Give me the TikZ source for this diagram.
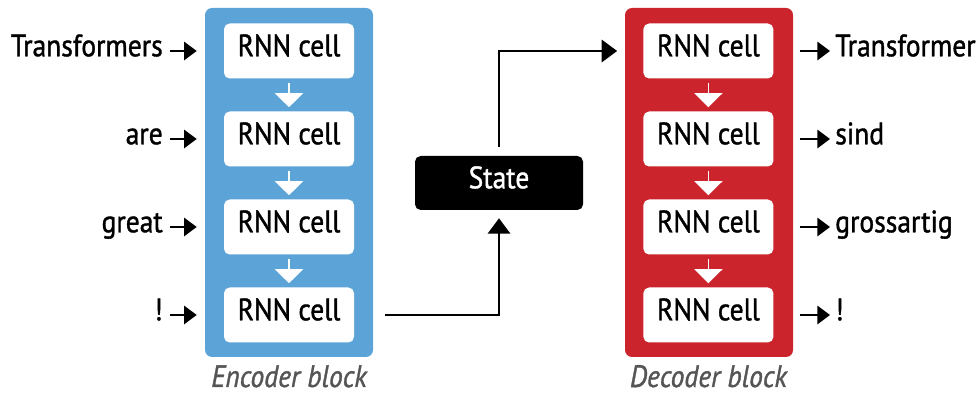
\documentclass[tikz,border=0pt]{standalone}
\usepackage{fontspec}
\setmainfont{PT Sans}[FakeStretch=0.89,FakeBold=1.2]
\usetikzlibrary{arrows.meta}
\definecolor{encblue}{RGB}{92,164,216}
\definecolor{decred}{RGB}{204,36,44}
\definecolor{capgray}{RGB}{85,85,85}
\tikzset{
  cell/.style={fill=white,rounded corners=4pt,minimum width=3.25cm,minimum height=1.375cm,
    inner sep=0pt,text height=0.85em,text depth=0.1em,font=\fontsize{22}{24}\selectfont},
  word/.style={inner sep=0pt,text height=0.85em,text depth=0.1em,font=\fontsize{22}{24}\selectfont},
  blockcap/.style={inner sep=0pt,anchor=base,text=capgray,font=\fontsize{22}{24}\selectfont\itshape},
  wordarrow/.style={line width=1.6pt,-{Triangle[width=13pt,length=9pt]}},
  cellarrow/.style={white,line width=1pt,shorten <=0.1cm,shorten >=0.1cm,-{Triangle[width=20pt,length=10pt]}},
  statearrow/.style={line width=1.4pt,-{Triangle[width=16pt,length=11pt]}}
}
\begin{document}
\begin{tikzpicture}
\useasboundingbox (0,0) rectangle (24.4,9.85);
\fill[encblue,rounded corners=5pt] (5.125,0.925) rectangle (9.325,9.65)
;
\fill[decred,rounded corners=5pt] (15.625,0.925) rectangle (19.825,9.65)
;
\foreach \i/\y in {1/8.575,2/6.375,3/4.175,4/1.975} {
  \node[cell] (enc\i) at (7.225,\y) {RNN cell};
  \node[cell] (dec\i) at (17.71,\y) {RNN cell};
}
\foreach \i/\w in {1/Transformers,2/are,3/great,4/!} {
  \node[word,anchor=east] (in\i) at (4.075,0 |- enc\i) {\w};
  \draw[wordarrow,shorten <=0.175cm,shorten >=0.675cm] (in\i.east) -- (enc\i.west);
}
\foreach \i/\w in {1/Transformer,2/sind,3/grossartig,4/!} {
  \node[word,anchor=west] (out\i) at (20.875,0 |- dec\i) {\w};
  \draw[wordarrow,shorten <=0.65cm,shorten >=0.125cm] (dec\i.east) -- (out\i.west);
}
\foreach \i/\j in {1/2,2/3,3/4} {
  \draw[cellarrow] (enc\i) -- (enc\j);
  \draw[cellarrow] (dec\i) -- (dec\j);
}
\node[cell,fill=black,text=white,minimum width=4.2cm,minimum height=1.35cm] (state) at (12.475,5.275) {State}
;
\draw[statearrow,shorten <=0.775cm,shorten >=0.2cm] (enc4.east) -| (state.south)
;
\draw[statearrow,shorten <=0.225cm,shorten >=0.65cm] (state.north) |- (dec1.west)
;
\node[blockcap] (enccap) at (7.225,0.175) {Encoder block};
\node[blockcap] (deccap) at (17.71,0.175) {Decoder block};
\end{tikzpicture}
\end{document}
